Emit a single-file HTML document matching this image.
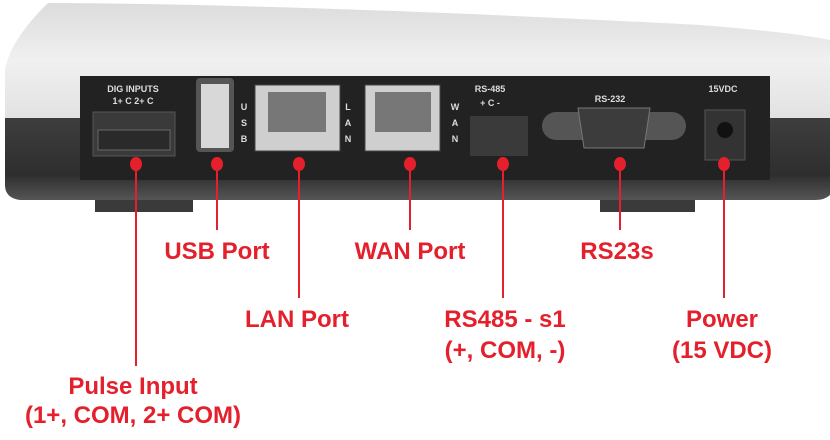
<!DOCTYPE html>
<html><head><style>
html,body{margin:0;padding:0;background:#fff;}
svg{display:block}
.l{font-family:"Liberation Sans",Arial,sans-serif;font-weight:bold;font-size:24px;fill:#e3202b;text-anchor:middle}
.s{font-family:"Liberation Sans",Arial,sans-serif;font-weight:bold;font-size:9px;fill:#ddd;text-anchor:middle}
</style></head><body>
<svg width="830" height="440" viewBox="0 0 830 440">
<defs>
<linearGradient id="top" x1="0" y1="0" x2="0" y2="1">
<stop offset="0" stop-color="#dcdcdc"/><stop offset="0.5" stop-color="#f0f0f0"/><stop offset="1" stop-color="#e2e2e2"/>
</linearGradient>
<linearGradient id="bot" x1="0" y1="0" x2="0" y2="1">
<stop offset="0" stop-color="#3e3e3e"/><stop offset="0.7" stop-color="#2e2e2e"/><stop offset="1" stop-color="#555"/>
</linearGradient>
</defs>
<rect x="95" y="190" width="98" height="22" fill="#3a3a3a"/>
<rect x="600" y="190" width="95" height="22" fill="#3a3a3a"/>
<path d="M5 116 L830 116 L830 195 Q825 200 815 200 L20 200 Q5 198 5 185 Z" fill="url(#bot)"/>
<path d="M48 3 Q300 4 700 25 Q790 32 830 40 L830 118 L5 118 L5 70 Q10 40 48 3 Z" fill="url(#top)"/>
<rect x="80" y="76" width="690" height="104" fill="#222"/>
<text class="s" x="133" y="92">DIG INPUTS</text>
<text class="s" x="133" y="104">1+ C 2+ C</text>
<rect x="93" y="112" width="82" height="44" fill="#3a3a3a" stroke="#555"/>
<rect x="98" y="130" width="72" height="20" fill="#2a2a2a" stroke="#666"/>
<rect x="196" y="78" width="38" height="74" rx="4" fill="#555"/>
<rect x="201" y="84" width="28" height="64" fill="#d8d8d8"/>
<text class="s" x="244" y="110">U</text><text class="s" x="244" y="126">S</text><text class="s" x="244" y="142">B</text>
<rect x="255" y="85" width="85" height="66" fill="#cfcfcf" stroke="#444"/>
<rect x="268" y="92" width="58" height="40" fill="#777"/>
<text class="s" x="348" y="110">L</text><text class="s" x="348" y="126">A</text><text class="s" x="348" y="142">N</text>
<rect x="365" y="85" width="75" height="66" fill="#cfcfcf" stroke="#444"/>
<rect x="375" y="92" width="56" height="40" fill="#777"/>
<text class="s" x="455" y="110">W</text><text class="s" x="455" y="126">A</text><text class="s" x="455" y="142">N</text>
<text class="s" x="490" y="92">RS-485</text>
<text class="s" x="490" y="106">+ C -</text>
<rect x="470" y="116" width="58" height="40" fill="#3a3a3a"/>
<text class="s" x="610" y="102">RS-232</text>
<rect x="542" y="112" width="144" height="28" rx="14" fill="#555"/>
<path d="M578 108 L650 108 L644 148 L584 148 Z" fill="#3c3c3c" stroke="#777"/>
<text class="s" x="723" y="92">15VDC</text>
<rect x="705" y="110" width="40" height="50" fill="#333" stroke="#555"/>
<circle cx="725" cy="130" r="8" fill="#111"/>
<g stroke="#e3202b" stroke-width="2">
<line x1="136" y1="163" x2="136" y2="366"/>
<line x1="217" y1="163" x2="217" y2="230"/>
<line x1="299" y1="163" x2="299" y2="298"/>
<line x1="410" y1="163" x2="410" y2="230"/>
<line x1="503" y1="163" x2="503" y2="298"/>
<line x1="620" y1="163" x2="620" y2="230"/>
<line x1="724" y1="163" x2="724" y2="298"/>
</g>
<g fill="#e3202b">
<ellipse cx="136" cy="164" rx="6" ry="7"/><ellipse cx="217" cy="164" rx="6" ry="7"/>
<ellipse cx="299" cy="164" rx="6" ry="7"/><ellipse cx="410" cy="164" rx="6" ry="7"/>
<ellipse cx="503" cy="164" rx="6" ry="7"/><ellipse cx="620" cy="164" rx="6" ry="7"/>
<ellipse cx="724" cy="164" rx="6" ry="7"/>
</g>
<text class="l" x="217" y="259">USB Port</text>
<text class="l" x="410" y="259">WAN Port</text>
<text class="l" x="617" y="259">RS23s</text>
<text class="l" x="297" y="327">LAN Port</text>
<text class="l" x="505" y="327">RS485 - s1</text>
<text class="l" x="505" y="358">(+, COM, -)</text>
<text class="l" x="722" y="327">Power</text>
<text class="l" x="722" y="358">(15 VDC)</text>
<text class="l" x="133" y="394">Pulse Input</text>
<text class="l" x="133" y="423">(1+, COM, 2+ COM)</text>
</svg>
</body></html>
